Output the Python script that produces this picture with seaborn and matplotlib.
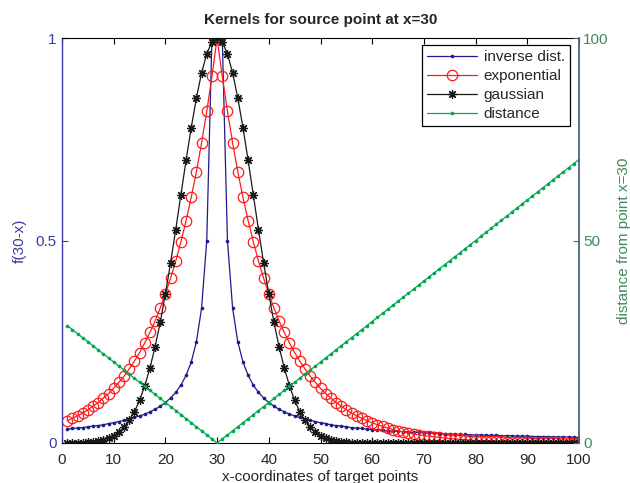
import matplotlib
matplotlib.use("Agg")
import matplotlib.pyplot as plt
import seaborn as sns
import pandas as pd

# ---- data ----
x_vals = list(range(1, 101))

inverse_dist = [
    0.034, 0.036, 0.037, 0.038, 0.040, 0.042, 0.043, 0.045, 0.048, 0.050,
    0.053, 0.056, 0.059, 0.063, 0.067, 0.071, 0.077, 0.083, 0.091, 0.100,
    0.111, 0.125, 0.143, 0.167, 0.200, 0.250, 0.333, 0.500, 1.000, 1.000,
    1.000, 0.500, 0.333, 0.250, 0.200, 0.167, 0.143, 0.125, 0.111, 0.100,
    0.091, 0.083, 0.077, 0.071, 0.067, 0.063, 0.059, 0.056, 0.053, 0.050,
    0.048, 0.045, 0.043, 0.042, 0.040, 0.038, 0.037, 0.036, 0.034, 0.033,
    0.032, 0.031, 0.030, 0.029, 0.029, 0.028, 0.027, 0.026, 0.026, 0.025,
    0.024, 0.024, 0.023, 0.023, 0.022, 0.022, 0.021, 0.021, 0.020, 0.020,
    0.020, 0.019, 0.019, 0.019, 0.018, 0.018, 0.018, 0.017, 0.017, 0.017,
    0.016, 0.016, 0.016, 0.016, 0.015, 0.015, 0.015, 0.015, 0.014, 0.014,
]

exponential = [
    0.055, 0.061, 0.067, 0.074, 0.082, 0.091, 0.100, 0.111, 0.122, 0.135,
    0.150, 0.165, 0.183, 0.202, 0.223, 0.247, 0.273, 0.301, 0.333, 0.368,
    0.407, 0.449, 0.497, 0.549, 0.607, 0.670, 0.741, 0.819, 0.905, 1.000,
    0.905, 0.819, 0.741, 0.670, 0.607, 0.549, 0.497, 0.449, 0.407, 0.368,
    0.333, 0.301, 0.273, 0.247, 0.223, 0.202, 0.183, 0.165, 0.150, 0.135,
    0.122, 0.111, 0.100, 0.091, 0.082, 0.074, 0.067, 0.061, 0.055, 0.050,
    0.045, 0.041, 0.037, 0.033, 0.030, 0.027, 0.025, 0.022, 0.020, 0.018,
    0.017, 0.015, 0.014, 0.012, 0.011, 0.010, 0.009, 0.008, 0.007, 0.0067,
    0.0061, 0.0055, 0.0050, 0.0045, 0.0041, 0.0037, 0.0033, 0.0030, 0.0027, 0.0025,
    0.0022, 0.0020, 0.0018, 0.0017, 0.0015, 0.0014, 0.0012, 0.0011, 0.0010, 0.0009,
]

gaussian = [
    0.0002, 0.0004, 0.0007, 0.001, 0.002, 0.003, 0.005, 0.008, 0.012, 0.018,
    0.027, 0.039, 0.056, 0.077, 0.105, 0.141, 0.185, 0.237, 0.298, 0.368,
    0.445, 0.527, 0.613, 0.698, 0.779, 0.852, 0.914, 0.961, 0.990, 1.000,
    0.990, 0.961, 0.914, 0.852, 0.779, 0.698, 0.613, 0.527, 0.445, 0.368,
    0.298, 0.237, 0.185, 0.141, 0.105, 0.077, 0.056, 0.039, 0.027, 0.018,
    0.012, 0.008, 0.005, 0.003, 0.002, 0.001, 0.0007, 0.0004, 0.0002, 0.0001,
    0.0, 0.0, 0.0, 0.0, 0.0, 0.0, 0.0, 0.0, 0.0, 0.0,
    0.0, 0.0, 0.0, 0.0, 0.0, 0.0, 0.0, 0.0, 0.0, 0.0,
    0.0, 0.0, 0.0, 0.0, 0.0, 0.0, 0.0, 0.0, 0.0, 0.0,
    0.0, 0.0, 0.0, 0.0, 0.0, 0.0, 0.0, 0.0, 0.0, 0.0,
]

distance = [
    29, 28, 27, 26, 25, 24, 23, 22, 21, 20,
    19, 18, 17, 16, 15, 14, 13, 12, 11, 10,
    9, 8, 7, 6, 5, 4, 3, 2, 1, 0,
    1, 2, 3, 4, 5, 6, 7, 8, 9, 10,
    11, 12, 13, 14, 15, 16, 17, 18, 19, 20,
    21, 22, 23, 24, 25, 26, 27, 28, 29, 30,
    31, 32, 33, 34, 35, 36, 37, 38, 39, 40,
    41, 42, 43, 44, 45, 46, 47, 48, 49, 50,
    51, 52, 53, 54, 55, 56, 57, 58, 59, 60,
    61, 62, 63, 64, 65, 66, 67, 68, 69, 70,
]

x_ticks = [0, 10, 20, 30, 40, 50, 60, 70, 80, 90, 100]
left_ticks = [0, 0.5, 1]
left_ticklabels = ["0", "0.5", "1"]
right_ticks = [0, 50, 100]

# ---- styling ----
sns.set_style("white")
plt.rcParams["font.family"] = ["Liberation Sans", "DejaVu Sans"]
plt.rcParams["xtick.direction"] = "in"
plt.rcParams["ytick.direction"] = "in"

C_INV = "#1c1c8c"
C_EXP = "#ff1a1a"
C_GAU = "#1a1a1a"
C_DST = "#00a84f"
C_LEFT = "#3a3aa8"
C_RSPINE = "#4c6878"
C_RTEXT = "#3f8a5a"
FS = 11

df = pd.DataFrame({"x": x_vals, "inv": inverse_dist, "exp": exponential,
                   "gau": gaussian, "dst": distance})

fig = plt.figure(figsize=(6.30, 4.83), dpi=100)
ax = fig.add_axes([62/630, 1-443/483, (579-62)/630, (443-38)/483])

sns.lineplot(data=df, x="x", y="inv", ax=ax, color=C_INV, lw=0.9,
             marker="o", markersize=2.6, markeredgewidth=0, label="inverse dist.")
sns.lineplot(data=df, x="x", y="exp", ax=ax, color=C_EXP, lw=0.9,
             marker="o", markersize=7.5, markerfacecolor="none",
             markeredgecolor=C_EXP, markeredgewidth=0.9, label="exponential")
sns.lineplot(data=df, x="x", y="gau", ax=ax, color=C_GAU, lw=0.9,
             marker=(8, 2, 0), markersize=6.5, markeredgewidth=0.9,
             markeredgecolor=C_GAU, label="gaussian")

ax.set_xlim(0, 100)
ax.set_ylim(0, 1)
ax.set_xticks(x_ticks)
ax.set_xticklabels([str(t) for t in x_ticks], fontsize=FS)
ax.set_yticks(left_ticks)
ax.set_yticklabels(left_ticklabels, fontsize=FS, color=C_LEFT)
ax.tick_params(axis="x", which="both", top=True, bottom=True, length=4,
               width=0.8, color="black", pad=7)
ax.tick_params(axis="y", left=True, length=4, width=0.8, color=C_LEFT, pad=4)
ax.set_xlabel("x-coordinates of target points", fontsize=FS, labelpad=2)
ax.set_ylabel("f(30-x)", fontsize=FS, color=C_LEFT, labelpad=6)
ax.set_title("Kernels for source point at x=30", fontsize=11,
             fontweight="bold", pad=10)
for s in ["top", "bottom"]:
    ax.spines[s].set_color("black")
    ax.spines[s].set_linewidth(0.8)
ax.spines["left"].set_color(C_LEFT)
ax.spines["left"].set_linewidth(1.0)
ax.spines["right"].set_visible(False)

ax2 = ax.twinx()
sns.lineplot(data=df, x="x", y="dst", ax=ax2, color=C_DST, lw=0.9,
             marker="o", markersize=2.6, markeredgewidth=0, label="distance")
ax2.set_ylim(0, 100)
ax2.set_yticks(right_ticks)
ax2.set_yticklabels([str(t) for t in right_ticks], fontsize=FS, color=C_RTEXT)
ax2.tick_params(axis="y", right=True, length=4, width=0.8, color=C_RSPINE, pad=3)
ax2.set_ylabel("distance from point x=30", fontsize=FS, color=C_RTEXT, labelpad=6)
for s in ["top", "bottom", "left"]:
    ax2.spines[s].set_visible(False)
ax2.spines["right"].set_color(C_RSPINE)
ax2.spines["right"].set_linewidth(1.3)

h1, l1 = ax.get_legend_handles_labels()
h2, l2 = ax2.get_legend_handles_labels()
if ax.get_legend() is not None:
    ax.get_legend().remove()
leg = ax2.legend(h1 + h2, l1 + l2, loc="upper right", fontsize=FS,
                 frameon=True, fancybox=False, framealpha=1,
                 edgecolor="black", borderpad=0.35, labelspacing=0.32,
                 handlelength=3.3, handletextpad=0.4, borderaxespad=0,
                 bbox_to_anchor=(1 - 9/517, 1 - 7/405))
leg.get_frame().set_linewidth(0.9)

fig.savefig("out.png", dpi=100)
